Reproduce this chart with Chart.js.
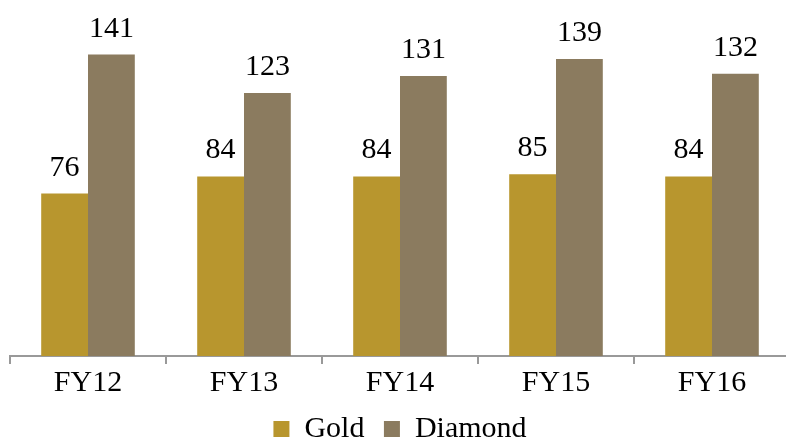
<!DOCTYPE html>
<html><head><meta charset="utf-8">
<script src="https://cdn.jsdelivr.net/npm/chart.js@4/dist/chart.umd.min.js"></script>
<style>
html,body{margin:0;padding:0;background:#fff;overflow:hidden;width:786px;height:439px;}
#wrap{position:absolute;left:0;top:0;width:800px;height:439px;}
</style></head>
<body><div id="wrap"><canvas id="c"></canvas></div>
<script>
const categories = ["FY12","FY13","FY14","FY15","FY16"];
const goldValues = [76,84,84,85,84];
const diamondValues = [141,123,131,139,132];
const seriesNames = ["Gold","Diamond"];

const FONT = "'Liberation Serif','Times New Roman',serif";

const labelPlugin = {
  id: 'valLabels',
  afterDatasetsDraw(chart){
    const ctx = chart.ctx;
    ctx.save();
    ctx.font = "30px " + FONT;
    ctx.fillStyle = "#000";
    ctx.textAlign = "center";
    ctx.textBaseline = "alphabetic";
    chart.data.datasets.forEach((ds,i)=>{
      chart.getDatasetMeta(i).data.forEach((bar,j)=>{
        ctx.fillText(String(ds.data[j]), bar.x, bar.y - 18);
      });
    });
    ctx.restore();
  }
};

new Chart(document.getElementById('c'), {
  type: 'bar',
  data: {
    labels: categories,
    datasets: [
      {label: seriesNames[0], data: goldValues, backgroundColor: '#B8962E', borderWidth: 0},
      {label: seriesNames[1], data: diamondValues, backgroundColor: '#8B7B5F', borderWidth: 0}
    ]
  },
  options: {
    responsive: true,
    maintainAspectRatio: false,
    animation: false,
    layout: {padding: {left: 10, right: 10, top: 14, bottom: -15}},
    datasets: {bar: {categoryPercentage: 0.6, barPercentage: 1.0}},
    scales: {
      y: {display: false, min: 0, max: 160},
      x: {
        grid: {display: true, drawOnChartArea: false, drawTicks: true, tickLength: 8, color: '#999', lineWidth: 2, offset: true},
        border: {display: true, color: '#999', width: 2},
        ticks: {color: '#000', font: {family: FONT, size: 30, lineHeight: 1.0}, padding: 4}
      }
    },
    plugins: {
      legend: {
        position: 'bottom',
        labels: {
          boxWidth: 16, boxHeight: 16, padding: 12, color: '#000',
          font: {family: FONT, size: 30, lineHeight: 1.0},
          generateLabels(chart){
            const items = Chart.defaults.plugins.legend.labels.generateLabels(chart);
            items.forEach((it, i) => { if (i < items.length - 1) it.text = it.text + ' '; });
            return items;
          }
        }
      },
      tooltip: {enabled: false}
    }
  },
  plugins: [labelPlugin]
});
</script>
</body></html>
